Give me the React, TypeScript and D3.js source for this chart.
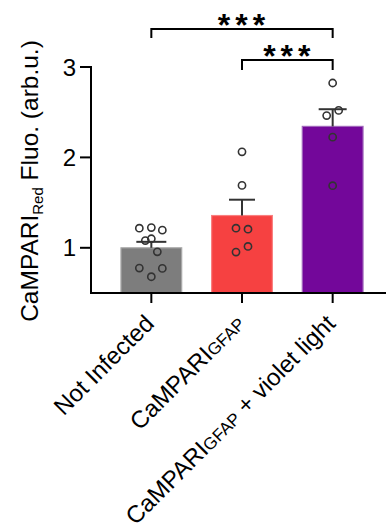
import React from "react";
import * as d3 from "d3";

const categories = ["notInfected", "campari", "campariViolet"];
const means = [1.0, 1.357, 2.343];
const sems = [0.066, 0.175, 0.19];
const points0 = [1.217, 1.224, 1.195, 1.08, 1.1, 0.956, 0.776, 0.772, 0.68];
const points1 = [2.062, 1.69, 1.217, 1.206, 1.015, 0.953];
const points2 = [2.823, 2.463, 2.52, 2.224, 1.687];
const pointOffsets0 = [-12, 0, 11, -6, 0, 6, -12, 11, 0];
const pointOffsets1 = [0, 0, -6, 6, 6, -6];
const pointOffsets2 = [0, -6, 6, 0, 0];
const yTicks = [1, 2, 3];
const fills = ["#7d7d7d", "#f64141", "#73079a"];
const strokes = ["#a9a9a9", "#f98080", "#a066bb"];

export default function App() {
  const W = 386, H = 531;
  const y = d3.scaleLinear().domain([0.5, 3]).range([293, 67]);
  const x = d3.scaleBand().domain(categories).range([106, 378]).paddingInner(0.33).paddingOuter(0.165);
  const cx = (i: number) => (x(categories[i]) as number) + x.bandwidth() / 2;
  const pts = [points0, points1, points2];
  const offs = [pointOffsets0, pointOffsets1, pointOffsets2];
  const font = "Liberation Sans, Arial, sans-serif";
  const axisX = 91;
  const baseY = y(0.5);
  const capW = [30, 26, 28];
  const brackets = [
    { a: 0, b: 2, yTop: 29, drop: 9 },
    { a: 1, b: 2, yTop: 60, drop: 10 },
  ];
  const xLabelY = 325;
  const fs = 24;
  return (
    <svg width={W} height={H} style={{ position: "absolute", left: 0, top: 0 }} fontFamily={font}>
      {categories.map((c, i) => (
        <rect key={c} x={x(c)} y={y(means[i])} width={x.bandwidth()} height={baseY - y(means[i])}
          fill={fills[i]} stroke={strokes[i]} strokeWidth={1.2} />
      ))}
      {categories.map((c, i) => (
        <g key={"e" + c} stroke="#333" strokeWidth={2}>
          <line x1={cx(i)} x2={cx(i)} y1={y(means[i])} y2={y(means[i] + sems[i])} />
          <line x1={cx(i) - capW[i] / 2} x2={cx(i) + capW[i] / 2} y1={y(means[i] + sems[i])} y2={y(means[i] + sems[i])} />
        </g>
      ))}
      {pts.map((arr, i) => arr.map((v, j) => (
        <circle key={i + "-" + j} cx={cx(i) + offs[i][j]} cy={y(v)} r={3.6} fill="none" stroke="#333" strokeWidth={1.6} />
      )))}
      <line x1={axisX} x2={axisX} y1={y(3) - 1} y2={baseY + 1} stroke="#000" strokeWidth={2} />
      <line x1={axisX - 1} x2={386} y1={baseY} y2={baseY} stroke="#000" strokeWidth={2} />
      {yTicks.map(t => (
        <g key={t}>
          <line x1={axisX - 11} x2={axisX} y1={y(t)} y2={y(t)} stroke="#000" strokeWidth={2} />
          <text x={axisX - 15} y={y(t)} dy="0.36em" textAnchor="end" fontSize={fs}>{t}</text>
        </g>
      ))}
      {categories.map((c, i) => (
        <line key={"t" + c} x1={cx(i)} x2={cx(i)} y1={baseY} y2={baseY + 10} stroke="#000" strokeWidth={2} />
      ))}
      <text transform={`translate(38,181) rotate(-90)`} textAnchor="middle" fontSize={24.5}>
        <tspan>CaMPARI</tspan>
        <tspan fontSize={15} dy={5}>Red</tspan>
        <tspan dy={-5}>{"\u00A0"}Fluo. (arb.u.)</tspan>
      </text>
      <text transform={`translate(${cx(0) + 4},${xLabelY}) rotate(-45)`} textAnchor="end" fontSize={fs}>Not Infected</text>
      <text transform={`translate(${cx(1) + 4},${xLabelY}) rotate(-45)`} textAnchor="end" fontSize={fs}>
        <tspan>CaMPARI</tspan><tspan fontSize={17}>GFAP</tspan>
      </text>
      <text transform={`translate(${cx(2) + 4},${xLabelY}) rotate(-45)`} textAnchor="end" fontSize={fs}>
        <tspan>CaMPARI</tspan><tspan fontSize={17}>GFAP</tspan><tspan>{"\u00A0"}+ violet light</tspan>
      </text>
      {brackets.map((b, k) => (
        <g key={"b" + k}>
          <path d={`M${cx(b.a)},${b.yTop + b.drop} V${b.yTop} H${cx(b.b)} V${b.yTop + b.drop}`} fill="none" stroke="#000" strokeWidth={2} />
          <text x={(cx(b.a) + cx(b.b)) / 2 + 2} y={b.yTop - 17} dy="0.75em" textAnchor="middle" fontSize={32} fontWeight="bold" letterSpacing={5}>***</text>
        </g>
      ))}
    </svg>
  );
}
